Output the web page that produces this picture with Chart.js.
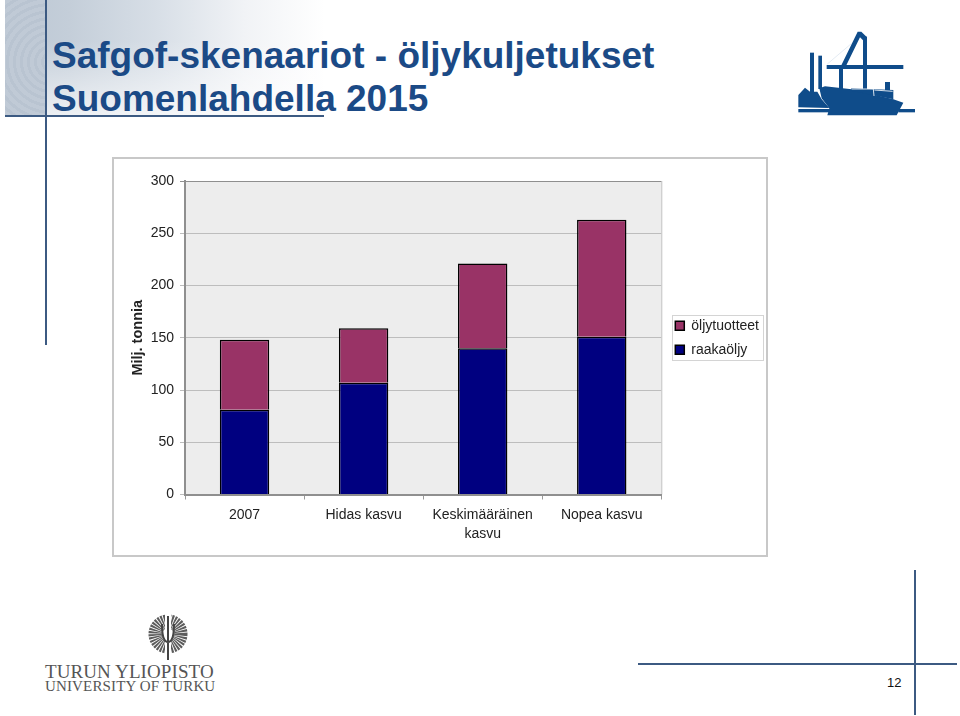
<!DOCTYPE html>
<html lang="fi">
<head>
<meta charset="utf-8">
<title>Safgof-skenaariot</title>
<script src="https://cdn.jsdelivr.net/npm/chart.js@4"></script>
<style>
  html, body { margin: 0; padding: 0; background: #fff; }
  body { position: relative; width: 960px; height: 716px; overflow: hidden; font-family: "Liberation Sans", Arial, sans-serif; }
  .abs { position: absolute; }
  .rule { position: absolute; background: #3c5a82; }
  #headerBg { left: 5px; top: 0; width: 320px; height: 116px;
    background:
      linear-gradient(to bottom, rgba(255,255,255,0) 35%, rgba(255,255,255,.7) 100%),
      linear-gradient(90deg, #bcc7d4 0%, #c4ced9 20%, #d8dfe7 48%, #f1f3f6 75%, #ffffff 100%); }
  #headerStrip { left: 5px; top: 0; width: 40px; height: 116px;
    background: repeating-radial-gradient(circle at 46px 62px, #b9c4d1 0 3px, #c0cad6 3px 7px); }
  .title { position: absolute; left: 52px; white-space: nowrap; color: #1b4a86; font-weight: bold; font-size: 37px; line-height: 40px; }
  #frame { left: 112px; top: 157px; width: 656px; height: 400px; box-sizing: border-box; border: 2px solid #c8c8c8; }
  #chartCanvas { position: absolute; left: 112px; top: 157px; }
  .uni { position: absolute; left: 45px; white-space: nowrap; font-family: "Liberation Serif", serif; color: #555; }
  #pageNo { left: 887px; top: 675px; font-size: 13px; color: #111; }
</style>
</head>
<body>
<div class="abs" id="headerBg"></div>
<div class="abs" id="headerStrip"></div>
<div class="rule" style="left:45px;top:0;width:2px;height:345px"></div>
<div class="rule" style="left:5px;top:115px;width:319px;height:2px"></div>
<div class="title" style="top:36px">Safgof-skenaariot - öljykuljetukset</div>
<div class="title" style="top:79px">Suomenlahdella 2015</div>

<svg class="abs" style="left:780px;top:20px" width="150" height="110" viewBox="0 0 450 330">
  <g fill="#0f4c8a">
    <rect x="90" y="98" width="12" height="120"/>
    <rect x="115" y="107" width="11" height="100"/>
    <path d="M55,225 L75,203 L90,215 L112,215 L125,238 L148,264 L55,262 Z"/>
    <rect x="55" y="267" width="92" height="10"/>
    <rect x="355" y="267" width="50" height="10"/>
    <rect x="140" y="135" width="230" height="12"/>
    <rect x="177" y="147" width="12" height="60"/>
    <rect x="249" y="50" width="12" height="160"/>
    <path d="M184,136 L233,35 L244,35 L261,52 L252,64 L240,52 L199,136 Z"/>
    <path d="M118,205 L135,199 L215,208 L340,238 L370,248 L350,286 L142,286 L148,265 L125,235 Z"/>
    <path d="M214,205 L340,210 L340,238 L214,212 Z"/>
    <rect x="315" y="186" width="15" height="24"/>
  </g>
  <path d="M215,207 L280,207 L282,228 M283,210 L338,214" fill="none" stroke="#fff" stroke-width="2.5"/>
  <path d="M142,132 L215,70" fill="none" stroke="#c9d6e6" stroke-width="1.5"/>
</svg>

<div class="abs" id="frame"></div>
<canvas id="chartCanvas" width="656" height="400"></canvas>

<svg class="abs" style="left:140px;top:610px" width="56" height="52" viewBox="0 0 56 52">
  <circle cx="28" cy="24" r="12.5" fill="none" stroke="#5c5c5c" stroke-width="14" stroke-dasharray="1.5 .7"/>
  <rect x="25" y="4" width="6" height="42" fill="#fff"/>
  <path d="M28,6 L28,50 M22,14 Q22,32 28,32 Q34,32 34,14" fill="none" stroke="#444" stroke-width="2"/>
</svg>
<div class="uni" style="top:661px;font-size:19px;letter-spacing:.1px">TURUN YLIOPISTO</div>
<div class="uni" style="top:678px;font-size:15px;letter-spacing:.15px">UNIVERSITY OF TURKU</div>

<div class="rule" style="left:914px;top:570px;width:2px;height:145px"></div>
<div class="rule" style="left:638px;top:663px;width:319px;height:2px"></div>
<div class="abs" id="pageNo">12</div>

<script>
// Chart data
const categories = ["2007", "Hidas kasvu", ["Keskimääräinen", "kasvu"], "Nopea kasvu"];
const crudeOil = [81, 107, 140, 151];
const oilProducts = [67, 52, 81, 112];
const yTicks = [0, 50, 100, 150, 200, 250, 300];

const textColor = "#222222";
const fontFamily = '"Liberation Sans", Arial, sans-serif';

// Grey plot background and right edge
const plotBackground = {
  id: "plotBackground",
  beforeDraw(chart) {
    const { ctx, chartArea: a } = chart;
    ctx.save();
    ctx.fillStyle = "#ededed";
    ctx.fillRect(a.left, a.top, a.right - a.left, a.bottom - a.top);
    ctx.strokeStyle = "#c0c0c0";
    ctx.beginPath();
    ctx.moveTo(a.right + 0.5, a.top);
    ctx.lineTo(a.right + 0.5, a.bottom);
    ctx.stroke();
    ctx.restore();
  }
};

// Centre the legend on the plot and put a thin box round it
const legendBorder = {
  id: "legendBorder",
  afterLayout(chart) {
    chart.legend.bottom = chart.chartArea.bottom;
    chart.legend.left = chart.chartArea.right + 4;
  },
  afterDraw(chart) {
    const { ctx, chartArea: a } = chart;
    const middle = Math.round((a.top + a.bottom) / 2);
    const left = Math.round(a.right) + 11;
    ctx.save();
    ctx.strokeStyle = "#d4d4d4";
    ctx.lineWidth = 1;
    ctx.strokeRect(left + 0.5, middle - 23 + 0.5, 91, 45);
    ctx.restore();
  }
};

new Chart(document.getElementById("chartCanvas").getContext("2d"), {
  type: "bar",
  data: {
    labels: categories,
    datasets: [
      { label: "raakaöljy", data: crudeOil, backgroundColor: "#000080", borderColor: "#000000", borderWidth: 1.5 },
      { label: "öljytuotteet", data: oilProducts, backgroundColor: "#993366", borderColor: "#000000", borderWidth: 1.5 }
    ]
  },
  options: {
    responsive: false,
    animation: false,
    barPercentage: 0.415,
    categoryPercentage: 1,
    layout: { padding: { top: 24, left: 0, bottom: 0, right: 3 } },
    scales: {
      x: {
        stacked: true,
        grid: { drawOnChartArea: false, color: "#999999", tickLength: 5 },
        border: { color: "#8f8f8f", width: 2 },
        ticks: { color: textColor, font: { family: fontFamily, size: 14, lineHeight: 1.35 }, maxRotation: 0, autoSkip: false, padding: 6 },
        afterFit(scale) { scale.height = 62.5; }
      },
      y: {
        stacked: true,
        min: 0,
        max: 300,
        afterBuildTicks(scale) { scale.ticks = yTicks.map((value) => ({ value })); },
        grid: { color: (c) => (c.tick.value === 300 ? "#8f8f8f" : "#bdbdbd"), tickLength: 5 },
        border: { color: "#8f8f8f", width: 2 },
        ticks: { color: textColor, font: { family: fontFamily, size: 14 }, padding: 6 },
        title: {
          display: true,
          text: "Milj. tonnia",
          color: textColor,
          font: { family: fontFamily, size: 14.5, weight: "bold" },
          padding: { top: 17, bottom: 0 }
        },
        afterFit(scale) { scale.width = 73; }
      }
    },
    plugins: {
      title: { display: false },
      tooltip: { enabled: false },
      legend: {
        position: "right",
        reverse: true,
        padding: 13,
        labels: {
          color: textColor,
          font: { family: fontFamily, size: 14 },
          boxWidth: 9,
          boxHeight: 9,
          padding: 10
        }
      }
    }
  },
  plugins: [plotBackground, legendBorder]
});
</script>
</body>
</html>
